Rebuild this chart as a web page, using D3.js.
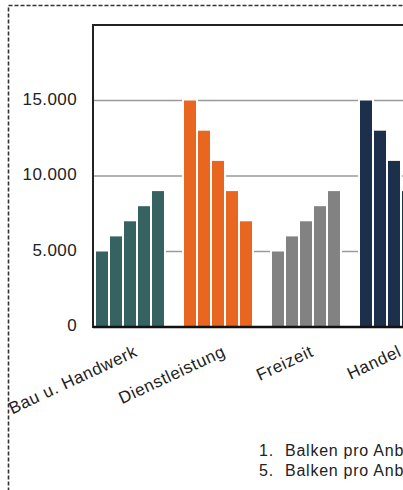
<!DOCTYPE html>
<html><head><meta charset="utf-8">
<script src="https://cdn.jsdelivr.net/npm/d3@7"></script>
<style>html,body{margin:0;padding:0;background:#fff;overflow:hidden}</style>
</head><body>
<script>
const categories = ["Bau u. Handwerk", "Dienstleistung", "Freizeit", "Handel"];
const seriesNames = ["1", "2", "3", "4", "5"];
const values = [
  [5000, 6000, 7000, 8000, 9000],
  [15000, 13000, 11000, 9000, 7000],
  [5000, 6000, 7000, 8000, 9000],
  [15000, 13000, 11000, 9000, 7000]
];
const colors = ["#366262", "#E8661F", "#828282", "#1D304B"];
const yTicks = [0, 5000, 10000, 15000];
const legendItems = ["1.|Balken pro Anbieter", "5.|Balken pro Anbieter"];

(function () {
const W = 403, H = 490;
const svg = d3.select("body").append("svg").attr("width", W).attr("height", H);
const FONT = "'Liberation Sans', Arial, sans-serif";

// outer dashed border
svg.append("rect").attr("x", 8.5).attr("y", 5.5).attr("width", 600).attr("height", 600)
  .attr("fill", "none").attr("stroke", "#333").attr("stroke-width", 1.6).attr("stroke-dasharray", "4,2");

const pLeft = 93, pTop = 25, pBottom = 327;
const y = d3.scaleLinear().domain([0, 20000]).range([pBottom, pTop]);
const x0 = d3.scaleBand().domain(categories).range([93, 431]).paddingInner(20/88).paddingOuter(3/88);
const x1 = d3.scaleBand().domain(seriesNames).range([0, 68]).paddingInner(2/14).paddingOuter(0);

// gridlines
svg.append("g").selectAll("line").data(yTicks.filter(d => d > 0)).join("line")
  .attr("x1", pLeft).attr("x2", 700).attr("y1", d => y(d)).attr("y2", d => y(d))
  .attr("stroke", "#9a9a9a").attr("stroke-width", 1.5);

// bars
const g = svg.append("g").selectAll("g").data(categories).join("g")
  .attr("transform", d => `translate(${x0(d)},0)`);
g.selectAll("rect.mask").data((d, i) => values[i].map(v => ({v, i}))).join("rect")
  .attr("class", "mask")
  .attr("x", (d, j) => x1(seriesNames[j]) - 2).attr("width", x1.bandwidth() + 4)
  .attr("y", d => y(d.v) - 2).attr("height", d => pBottom - y(d.v) + 2)
  .attr("fill", "#fff");
g.selectAll("rect.bar").data((d, i) => values[i].map(v => ({v, i}))).join("rect")
  .attr("class", "bar")
  .attr("x", (d, j) => x1(seriesNames[j])).attr("width", x1.bandwidth())
  .attr("y", d => y(d.v)).attr("height", d => pBottom - y(d.v))
  .attr("fill", d => colors[d.i]);

// frame
svg.append("line").attr("x1", pLeft).attr("x2", 700).attr("y1", pTop).attr("y2", pTop)
  .attr("stroke", "#222").attr("stroke-width", 2);
svg.append("line").attr("x1", pLeft).attr("x2", pLeft).attr("y1", pTop - 1).attr("y2", pBottom + 1)
  .attr("stroke", "#222").attr("stroke-width", 2);

// x axis
const xAxis = svg.append("g").attr("transform", `translate(0,${pBottom})`)
  .call(d3.axisBottom(x0).tickSize(0).tickFormat(""));
xAxis.select(".domain").attr("stroke", "#111").attr("stroke-width", 2.5).attr("d", `M${pLeft},0H700`);

svg.append("g").selectAll("text").data(categories).join("text")
  .attr("transform", d => `translate(${x0(d) + x0.bandwidth()/2 + 8.5},355.5) rotate(-25)`)
  .attr("text-anchor", "end")
  .style("font-family", FONT)
  .style("font-size", "17px").style("letter-spacing", "0.6px")
  .attr("fill", "#222")
  .text(d => d);

// y axis labels
const yAxis = svg.append("g").attr("transform", `translate(${pLeft},0)`)
  .call(d3.axisLeft(y).tickValues(yTicks).tickSize(0).tickPadding(16)
    .tickFormat(d => d3.format(",")(d).replace(/,/g, ".")));
yAxis.select(".domain").remove();
yAxis.selectAll("text")
  .style("font-family", FONT)
  .style("font-size", "17px").style("letter-spacing", "0.4px")
  .attr("fill", "#222").attr("dy", "0.22em");

// legend
const leg = svg.append("g").selectAll("text").data(legendItems).join("text")
  .attr("y", (d, i) => 456 + i * 20)
  .style("font-family", FONT)
  .style("font-size", "16px").style("letter-spacing", "0.75px")
  .attr("fill", "#222");
leg.append("tspan").attr("x", 259).text(d => d.split("|")[0]);
leg.append("tspan").attr("x", 285).text(d => d.split("|")[1]);
})();
</script>
</body></html>
